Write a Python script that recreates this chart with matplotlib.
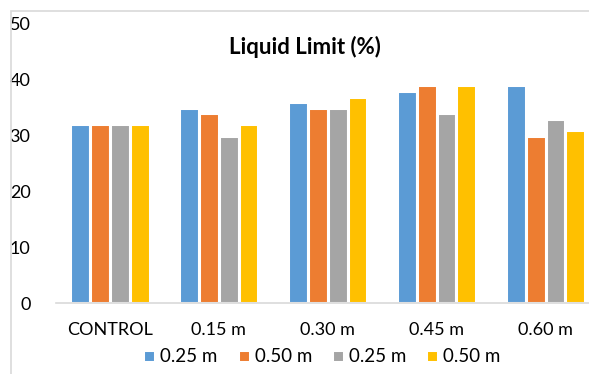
import matplotlib.pyplot as plt
import numpy as np
from matplotlib.patches import Rectangle

categories = ["CONTROL", "0.15 m", "0.30 m", "0.45 m", "0.60 m"]
series_names = ["0.25 m", "0.50 m", "0.25 m", "0.50 m"]
series_a = [32, 35, 36, 38, 39]
series_b = [32, 34, 35, 39, 30]
series_c = [32, 30, 35, 34, 33]
series_d = [32, 32, 37, 39, 31]
colors = ["#5B9BD5", "#ED7D31", "#A5A5A5", "#FFC000"]

plt.rcParams["font.family"] = ["Lato", "DejaVu Sans"]

W, H = 589, 374
fig = plt.figure(figsize=(W / 100, H / 100), dpi=100)

# chart area border (cropped on right and bottom)
fig.patches.append(Rectangle((11 / W, -0.1), 1.2, (H - 11) / H + 0.1,
                             transform=fig.transFigure, fill=False,
                             edgecolor="#D9D9D9", linewidth=1.2))

left, right = 55.5 / W, 600 / W
bottom, top = 1 - 303 / H, 1 - 24 / H
ax = fig.add_axes([left, bottom, right - left, top - bottom])

x = np.arange(len(categories))
step = 0.182
for i, (vals, c, name) in enumerate(zip([series_a, series_b, series_c, series_d],
                                        colors, series_names)):
    ax.bar(x + (i - 1.5) * step, vals, width=step, color=c,
           edgecolor="white", linewidth=2.2, label=name)

ax.set_xlim(-0.5, 4.5)
ax.set_ylim(0, 50)
ax.set_yticks(range(0, 51, 10))
ax.set_xticks(x)
ax.set_xticklabels(categories)
for s in ["left", "right", "top"]:
    ax.spines[s].set_visible(False)
ax.spines["bottom"].set_color("#D9D9D9")
ax.spines["bottom"].set_linewidth(1.2)
ax.tick_params(axis="both", length=0, labelsize=13, colors="#000000")
ax.tick_params(axis="y", pad=18)
ax.tick_params(axis="x", pad=14)

fig.text(305 / W, 1 - 47 / H, "Liquid Limit (%)", ha="center", va="center",
         fontsize=16, fontweight="bold")

fig.legend(loc="center", bbox_to_anchor=(322 / W, 1 - 357 / H), ncol=4,
           frameon=False, fontsize=13.5, handlelength=0.64, handleheight=0.64,
           handletextpad=0.28, columnspacing=1.05)

fig.savefig("out.png", dpi=100)
